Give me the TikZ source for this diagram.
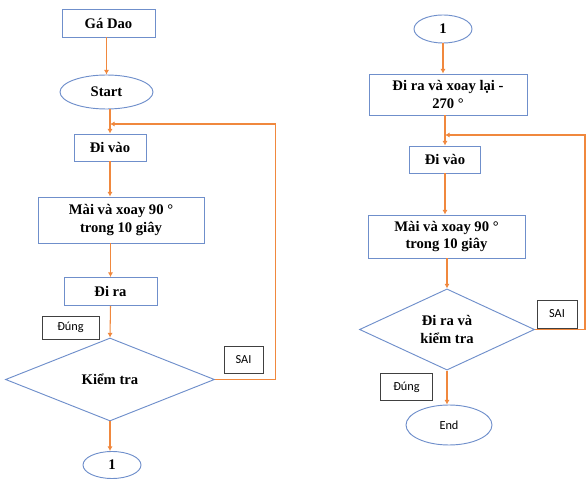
\documentclass[tikz,border=0pt]{standalone}
\usepackage{fontspec}
\setmainfont{Liberation Serif}
\newfontfamily\labelfont{Carlito}
\usetikzlibrary{shapes.geometric,arrows.meta}
\definecolor{khung}{HTML}{6F8FCB}
\definecolor{cam}{HTML}{F0883E}
\begin{document}
\begin{tikzpicture}[x=0.03cm,y=-0.03cm,
	buoc/.style={draw=khung,line width=0.8pt,rectangle,inner sep=0pt,align=center,font=\fontsize{12.5}{15}\selectfont\bfseries},
	tron/.style={draw=khung,line width=0.8pt,ellipse,inner sep=0pt,align=center,font=\fontsize{12.5}{15}\selectfont\bfseries},
	hoi/.style={draw=khung,line width=0.8pt,diamond,inner sep=0pt,align=center,font=\fontsize{12.5}{15}\selectfont\bfseries},
	nhan/.style={draw=black!75,line width=0.8pt,rectangle,inner sep=0pt,font=\labelfont\fontsize{10.5}{12}\selectfont},
	luong/.style={draw=cam,line width=0.9pt,-{Latex[length=4pt,width=4.5pt]}}]
	\useasboundingbox (0,0) rectangle (586,483);
	% cot trai
	\node[buoc,minimum width=93*0.03cm,minimum height=28*0.03cm] (gado) at (108.5,23) {Gá Dao};
	\node[tron,minimum width=93*0.03cm,minimum height=34*0.03cm] (start) at (106.5,92) {Start};
	\node[buoc,minimum width=72*0.03cm,minimum height=27*0.03cm] (vao1) at (110,147.5) {Đi vào};
	\node[buoc,minimum width=166*0.03cm,minimum height=46*0.03cm] (mai1) at (121,220) {Mài và xoay 90 °\\trong 10 giây};
	\node[buoc,minimum width=93*0.03cm,minimum height=28*0.03cm] (ra1) at (110.5,291.5) {Đi ra};
	\node[hoi,minimum width=209*0.03cm,minimum height=83*0.03cm] (kt1) at (110,379.5) {Kiểm tra};
	\node[tron,minimum width=58*0.03cm,minimum height=27*0.03cm] (mot1) at (112,465) {1};
	\node[nhan,minimum width=57*0.03cm,minimum height=23*0.03cm] (dung1) at (70.5,327.5) {Đúng};
	\node[nhan,minimum width=39*0.03cm,minimum height=27*0.03cm] (sai1) at (243.5,359.5) {SAI};
	\coordinate (noi1) at (110,124);
	\draw[luong] (gado.south -| start.north) -- (start.north);
	\draw[luong] (start.south -| vao1.north) -- (vao1.north);
	\draw[luong] (vao1.south) -- (vao1.south |- mai1.north);
	\draw[luong] (mai1.south -| ra1.north) -- (ra1.north);
	\draw[luong] (ra1.south) -- (kt1.north);
	\draw[luong] (kt1.south) -- (kt1.south |- mot1.north);
	\draw[luong] (kt1.east) -- ++(61,0) |- (noi1);
	% cot phai
	\node[tron,minimum width=58*0.03cm,minimum height=28*0.03cm] (mot2) at (443,29) {1};
	\node[buoc,minimum width=158*0.03cm,minimum height=41*0.03cm] (ra2) at (448,94.5) {Đi ra và xoay lại -\\270 °};
	\node[buoc,minimum width=71*0.03cm,minimum height=27*0.03cm] (vao2) at (445,159.5) {Đi vào};
	\node[buoc,minimum width=157*0.03cm,minimum height=43*0.03cm] (mai2) at (446.5,236.5) {Mài và xoay 90 °\\trong 10 giây};
	\node[hoi,minimum width=175*0.03cm,minimum height=80*0.03cm] (kt2) at (447,329.5) {Đi ra và\\kiểm tra};
	\node[tron,minimum width=86*0.03cm,minimum height=40*0.03cm] (end) at (449,425) {\labelfont\fontsize{10.5}{12}\selectfont\mdseries End};
	\node[nhan,minimum width=52*0.03cm,minimum height=27*0.03cm] (dung2) at (406.5,387) {Đúng};
	\node[nhan,minimum width=40*0.03cm,minimum height=28*0.03cm] (sai2) at (557,314) {SAI};
	\coordinate (noi2) at (445,135);
	\draw[luong] (mot2.south) -- (mot2.south |- ra2.north);
	\draw[luong] (ra2.south -| vao2.north) -- (vao2.north);
	\draw[luong] (vao2.south) -- (vao2.south |- mai2.north);
	\draw[luong] (mai2.south -| kt2.north) -- (kt2.north);
	\draw[luong] (kt2.south) -- (kt2.south |- end.north);
	\draw[luong] (kt2.east) -- ++(50,0) |- (noi2);
\end{tikzpicture}
\end{document}
